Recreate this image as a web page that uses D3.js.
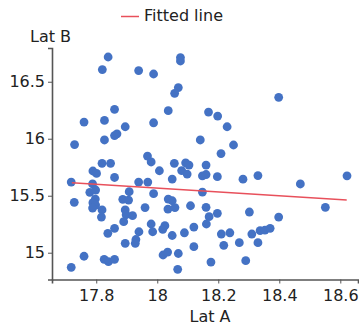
<!DOCTYPE html>
<html lang="en">
<head>
<meta charset="UTF-8">
<title>Lat A vs Lat B</title>
<script src="https://d3js.org/d3.v7.min.js"></script>
<style>
  body { margin: 0; background: #fff; }
  text { font-family: "DejaVu Sans", Verdana, sans-serif; fill: #222; }
</style>
</head>
<body>
<div id="container"></div>
<script>
// scatter points
const latA = [17.839,17.820,17.939,17.988,18.076,18.076,18.069,18.057,17.860,17.760,
  17.827,17.895,17.868,17.860,17.827,17.729,18.036,18.168,18.198,17.988,
  18.141,17.968,18.398,18.229,18.250,18.209,17.819,17.847,17.980,18.056,
  18.093,18.104,18.160,17.789,17.801,17.860,18.007,18.080,18.098,18.049,
  18.148,18.160,18.197,18.281,18.330,18.469,18.622,17.718,17.788,17.939,
  17.969,17.779,17.798,17.908,17.988,18.148,17.728,17.797,17.789,17.798,
  17.788,17.819,17.817,17.887,17.906,17.895,17.898,17.919,17.890,17.960,
  18.036,18.049,18.035,18.058,18.109,18.160,18.197,18.170,18.161,18.302,
  18.398,18.551,17.860,17.838,17.940,17.980,17.985,18.025,18.018,18.049,
  18.089,18.120,18.210,18.238,18.310,18.337,18.353,18.370,17.930,17.928,
  17.895,18.120,18.218,18.269,18.330,17.760,17.826,17.840,17.860,17.718,
  18.019,18.034,18.069,18.067,18.176,18.290];
const latB = [16.717,16.607,16.598,16.568,16.712,16.682,16.449,16.398,16.258,16.146,
  16.161,16.105,16.043,16.028,15.989,15.949,16.246,16.234,16.199,16.140,
  15.989,15.848,16.363,16.105,15.945,15.870,15.784,15.784,15.796,15.784,
  15.789,15.769,15.769,15.717,15.696,15.660,15.719,15.721,15.690,15.646,
  15.675,15.686,15.667,15.645,15.677,15.603,15.675,15.620,15.603,15.620,
  15.620,15.530,15.550,15.535,15.518,15.532,15.442,15.471,15.439,15.418,
  15.392,15.375,15.313,15.468,15.462,15.375,15.333,15.325,15.272,15.396,
  15.471,15.456,15.383,15.396,15.412,15.398,15.346,15.316,15.252,15.357,
  15.313,15.398,15.214,15.170,15.184,15.252,15.184,15.237,15.205,15.151,
  15.175,15.225,15.164,15.175,15.164,15.193,15.199,15.214,15.116,15.082,
  15.082,15.053,15.065,15.088,15.088,14.969,14.942,14.921,14.942,14.872,
  14.980,15.006,14.993,14.854,14.918,14.930];

// fitted line end points
const fitA = [17.720, 18.621];
const fitB = [15.614, 15.462];

const xTicks = [17.8, 18, 18.2, 18.4, 18.6];
const yTicks = [15, 15.5, 16, 16.5];

const W = 359, H = 329;
const plotL = 52, plotR = 358, plotT = 48, plotB = 279.5;

const svg = d3.select("#container").append("svg")
  .attr("width", W).attr("height", H);

const x = d3.scaleLinear().domain([17.655, 18.658]).range([plotL, plotR]);
const y = d3.scaleLinear().domain([14.765, 16.796]).range([plotB, plotT]);

const points = latA.map((a, i) => ({a: a, b: latB[i]}));

svg.append("g")
  .selectAll("circle")
  .data(points)
  .enter()
  .append("circle")
  .attr("cx", d => x(d.a))
  .attr("cy", d => y(d.b))
  .attr("r", 4.4)
  .attr("fill", "#4472c4");

const line = d3.line().x(d => x(d[0])).y(d => y(d[1]));
svg.append("path")
  .datum(fitA.map((a, i) => [a, fitB[i]]))
  .attr("d", line)
  .attr("fill", "none")
  .attr("stroke", "#e8505b")
  .attr("stroke-width", 1.5);

const xAxis = svg.append("g")
  .attr("transform", `translate(0,${plotB})`)
  .call(d3.axisBottom(x).tickValues(xTicks).tickSize(4).tickPadding(6)
    .tickFormat(d3.format("")));
const yAxis = svg.append("g")
  .attr("transform", `translate(${plotL},0)`)
  .call(d3.axisLeft(y).tickValues(yTicks).tickSize(4).tickPadding(3)
    .tickFormat(d3.format("")));

[xAxis, yAxis].forEach(g => {
  g.select(".domain").attr("stroke", "#555").attr("stroke-width", 1.6);
  g.selectAll(".tick line").attr("stroke", "#555").attr("stroke-width", 1);
  g.selectAll(".tick text").attr("font-size", 16)
    .attr("font-family", "DejaVu Sans, Verdana, sans-serif").attr("fill", "#222");
});

// axis titles
svg.append("text").attr("x", 30).attr("y", 42).attr("font-size", 16).text("Lat B");
svg.append("text").attr("x", 210).attr("y", 322).attr("font-size", 16)
  .attr("text-anchor", "middle").text("Lat A");

// legend
svg.append("line").attr("x1", 121).attr("x2", 139).attr("y1", 16.5).attr("y2", 16.5)
  .attr("stroke", "#e8505b").attr("stroke-width", 1.5);
svg.append("text").attr("x", 144).attr("y", 21).attr("font-size", 16).text("Fitted line");
</script>
</body>
</html>
